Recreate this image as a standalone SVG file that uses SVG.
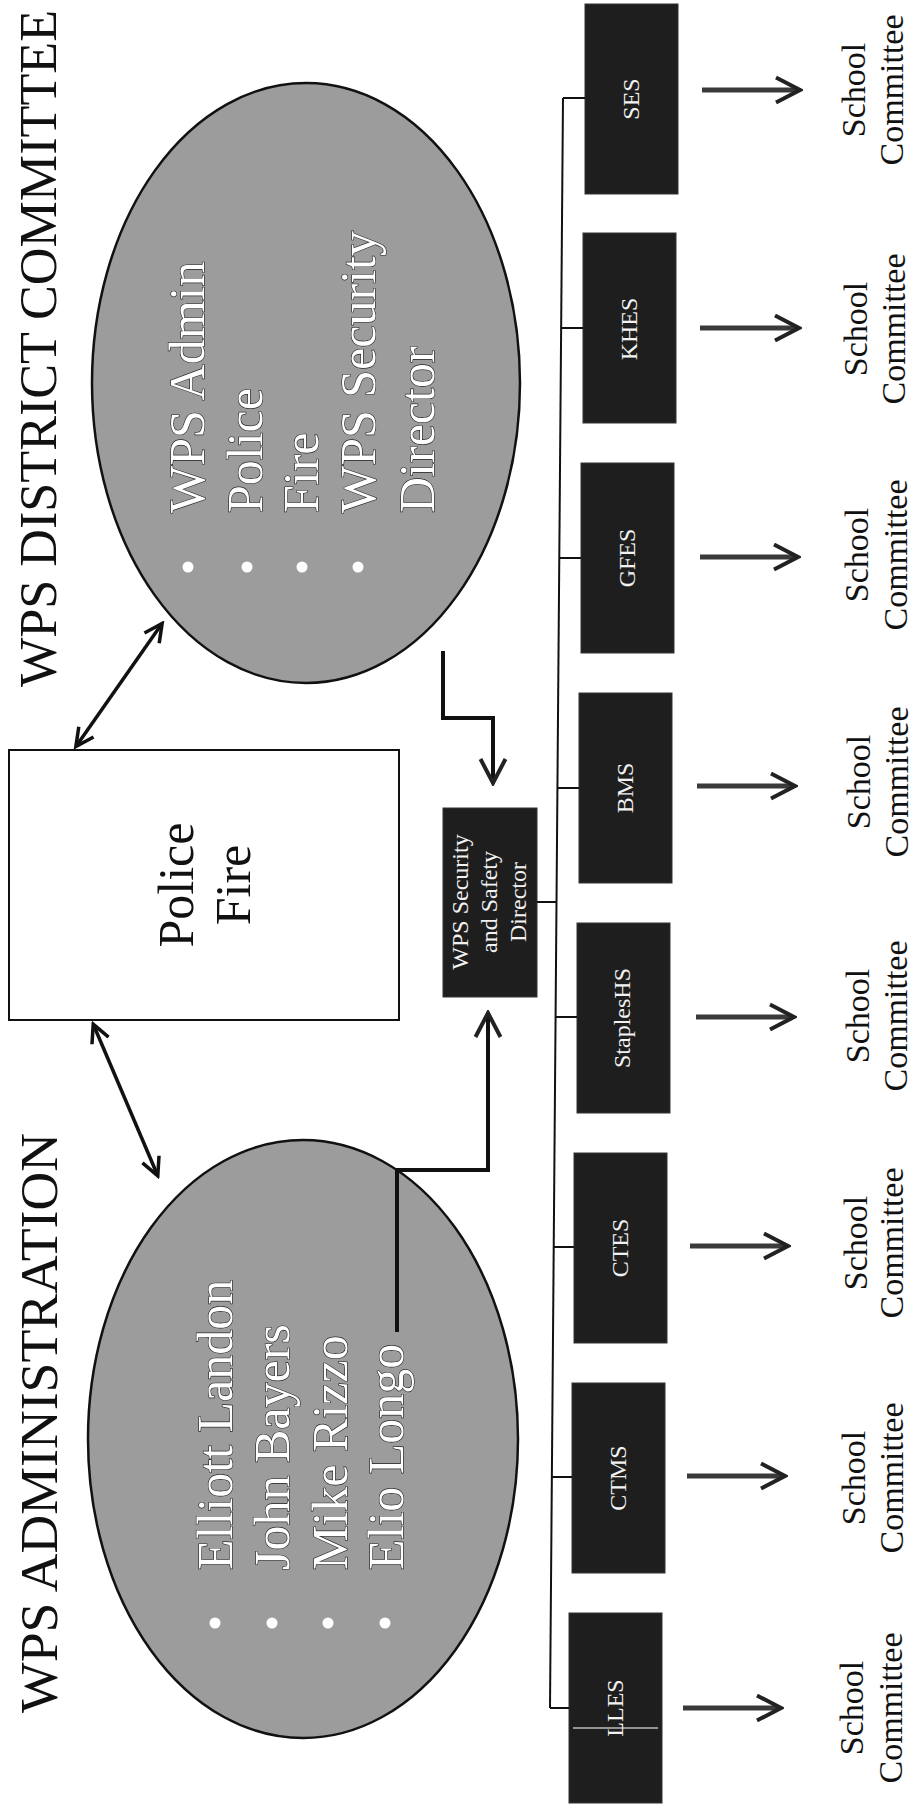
<svg xmlns="http://www.w3.org/2000/svg" width="915" height="1808" viewBox="0 0 915 1808">
<style>
text{font-family:"Liberation Serif","Times New Roman",serif}
.title{font-size:52px;fill:#111}
.oval{fill:#9c9c9c;stroke:#111;stroke-width:2.5}
.otext{font-size:50px;fill:#fff;stroke:#222;stroke-width:1.2;paint-order:stroke}
.bullet{fill:#fff}
.rectw{fill:#fff;stroke:#111;stroke-width:2}
.pf{font-size:50px;fill:#111;text-anchor:middle}
.box{fill:#1e1e1e;stroke:#333;stroke-width:1}
.btext{font-size:24px;fill:#f2f2f2;text-anchor:middle}
.sc{font-size:34px;fill:#111;text-anchor:middle}
.bus{fill:none;stroke:#111;stroke-width:2}
.conn{fill:none;stroke:#111;stroke-width:4}
.dbl{fill:none;stroke:#111;stroke-width:3.5}
.arr{fill:none;stroke:#3a3a3a;stroke-width:5}
</style>
<defs>
<marker id="chev" viewBox="0 0 30 30" refX="24" refY="15" markerWidth="30" markerHeight="30" markerUnits="userSpaceOnUse" orient="auto-start-reverse">
<path d="M3,2.5 L27,15 L3,27.5" fill="none" stroke="#222" stroke-width="4"/>
</marker>
<marker id="chevs" viewBox="0 0 24 24" refX="19" refY="12" markerWidth="24" markerHeight="24" markerUnits="userSpaceOnUse" orient="auto-start-reverse">
<path d="M3,3 L21,12 L3,21" fill="none" stroke="#111" stroke-width="3.5"/>
</marker>
</defs>

<g id="title-district"><text class="title" transform="translate(56,687) rotate(-90)" textLength="677" lengthAdjust="spacingAndGlyphs">WPS DISTRICT COMMITTEE</text></g>
<g id="title-admin"><text class="title" transform="translate(57,1713) rotate(-90)" textLength="580" lengthAdjust="spacingAndGlyphs">WPS ADMINISTRATION</text></g>

<g id="district-committee">
<ellipse class="oval" cx="306" cy="383" rx="214" ry="300"/>
<circle class="bullet" cx="188" cy="567" r="5.5"/>
<circle class="bullet" cx="247" cy="567" r="5.5"/>
<circle class="bullet" cx="302" cy="567" r="5.5"/>
<circle class="bullet" cx="358" cy="567" r="5.5"/>
<text class="otext" transform="translate(204,513) rotate(-90)">WPS Admin</text>
<text class="otext" transform="translate(262,513) rotate(-90)">Police</text>
<text class="otext" transform="translate(318,513) rotate(-90)">Fire</text>
<text class="otext" transform="translate(375,513) rotate(-90)">WPS Security</text>
<text class="otext" transform="translate(434,513) rotate(-90)">Director</text>
</g>

<g id="administration">
<ellipse class="oval" cx="303" cy="1439" rx="215" ry="299"/>
<circle class="bullet" cx="215" cy="1623" r="5.5"/>
<circle class="bullet" cx="272" cy="1623" r="5.5"/>
<circle class="bullet" cx="328" cy="1623" r="5.5"/>
<circle class="bullet" cx="385" cy="1623" r="5.5"/>
<text class="otext" transform="translate(232,1570) rotate(-90)">Elliott Landon</text>
<text class="otext" transform="translate(289,1570) rotate(-90)">John Bayers</text>
<text class="otext" transform="translate(347,1570) rotate(-90)">Mike Rizzo</text>
<text class="otext" transform="translate(403,1570) rotate(-90)">Elio Longo</text>
</g>

<g id="police-fire">
<rect class="rectw" x="9" y="750" width="390" height="270"/>
<text class="pf" transform="translate(193,885) rotate(-90)">Police</text>
<text class="pf" transform="translate(250,885) rotate(-90)">Fire</text>
</g>

<g id="security-director">
<rect class="box" x="443" y="808" width="94" height="189"/>
<text class="btext" transform="translate(468,902) rotate(-90)">WPS Security</text>
<text class="btext" transform="translate(497,902) rotate(-90)">and Safety</text>
<text class="btext" transform="translate(526,902) rotate(-90)">Director</text>
</g>

<g id="school-SES"><rect class="box" x="585" y="4" width="93" height="190"/><text class="btext" transform="translate(639,99) rotate(-90)">SES</text></g>
<g id="school-KHES"><rect class="box" x="583" y="233" width="93" height="190"/><text class="btext" transform="translate(637,329) rotate(-90)">KHES</text></g>
<g id="school-GFES"><rect class="box" x="581" y="463" width="93" height="190"/><text class="btext" transform="translate(635,558) rotate(-90)">GFES</text></g>
<g id="school-BMS"><rect class="box" x="579" y="693" width="93" height="190"/><text class="btext" transform="translate(633,788) rotate(-90)">BMS</text></g>
<g id="school-StaplesHS"><rect class="box" x="577" y="923" width="93" height="190"/><text class="btext" transform="translate(630,1018) rotate(-90)">StaplesHS</text></g>
<g id="school-CTES"><rect class="box" x="574" y="1153" width="93" height="190"/><text class="btext" transform="translate(628,1248) rotate(-90)">CTES</text></g>
<g id="school-CTMS"><rect class="box" x="572" y="1383" width="93" height="190"/><text class="btext" transform="translate(626,1478) rotate(-90)">CTMS</text></g>
<g id="school-LLES"><rect class="box" x="569" y="1613" width="93" height="190"/><line x1="573" y1="1728" x2="658" y2="1728" stroke="#bdbdbd" stroke-width="1.5"/><text class="btext" transform="translate(623,1708) rotate(-90)">LLES</text></g>

<g id="committee-SES"><text class="sc" transform="translate(865,90) rotate(-90)">School</text><text class="sc" transform="translate(903,90) rotate(-90)">Committee</text></g>
<g id="committee-KHES"><text class="sc" transform="translate(867,329) rotate(-90)">School</text><text class="sc" transform="translate(905,329) rotate(-90)">Committee</text></g>
<g id="committee-GFES"><text class="sc" transform="translate(868,555) rotate(-90)">School</text><text class="sc" transform="translate(907,555) rotate(-90)">Committee</text></g>
<g id="committee-BMS"><text class="sc" transform="translate(870,782) rotate(-90)">School</text><text class="sc" transform="translate(908,782) rotate(-90)">Committee</text></g>
<g id="committee-StaplesHS"><text class="sc" transform="translate(869,1016) rotate(-90)">School</text><text class="sc" transform="translate(907,1016) rotate(-90)">Committee</text></g>
<g id="committee-CTES"><text class="sc" transform="translate(867,1243) rotate(-90)">School</text><text class="sc" transform="translate(903,1243) rotate(-90)">Committee</text></g>
<g id="committee-CTMS"><text class="sc" transform="translate(865,1478) rotate(-90)">School</text><text class="sc" transform="translate(903,1478) rotate(-90)">Committee</text></g>
<g id="committee-LLES"><text class="sc" transform="translate(863,1708) rotate(-90)">School</text><text class="sc" transform="translate(902,1708) rotate(-90)">Committee</text></g>

<g id="connectors">
<line class="dbl" x1="77" y1="745" x2="161" y2="625" marker-start="url(#chevs)" marker-end="url(#chevs)"/>
<line class="dbl" x1="94" y1="1026" x2="157" y2="1174" marker-start="url(#chevs)" marker-end="url(#chevs)"/>
<path class="conn" d="M443,651 V718 H493 V780" marker-end="url(#chev)"/>
<path class="conn" d="M397,1332 V1170 H488 V1016" marker-end="url(#chev)"/>
<line class="bus" x1="563" y1="98" x2="550" y2="1708"/>
<line class="bus" x1="537" y1="902" x2="557" y2="902"/>
<line class="bus" x1="563" y1="98" x2="585" y2="98"/>
<line class="bus" x1="561" y1="328" x2="583" y2="328"/>
<line class="bus" x1="559" y1="558" x2="581" y2="558"/>
<line class="bus" x1="557" y1="788" x2="579" y2="788"/>
<line class="bus" x1="555" y1="1017" x2="577" y2="1017"/>
<line class="bus" x1="553" y1="1247" x2="574" y2="1247"/>
<line class="bus" x1="551" y1="1477" x2="572" y2="1477"/>
<line class="bus" x1="550" y1="1708" x2="569" y2="1708"/>
<line class="arr" x1="702" y1="90" x2="797" y2="90" marker-end="url(#chev)"/>
<line class="arr" x1="700" y1="328" x2="796" y2="328" marker-end="url(#chev)"/>
<line class="arr" x1="700" y1="557" x2="795" y2="557" marker-end="url(#chev)"/>
<line class="arr" x1="697" y1="786" x2="792" y2="786" marker-end="url(#chev)"/>
<line class="arr" x1="696" y1="1017" x2="791" y2="1017" marker-end="url(#chev)"/>
<line class="arr" x1="690" y1="1246" x2="785" y2="1246" marker-end="url(#chev)"/>
<line class="arr" x1="687" y1="1476" x2="782" y2="1476" marker-end="url(#chev)"/>
<line class="arr" x1="683" y1="1708" x2="778" y2="1708" marker-end="url(#chev)"/>
</g>
</svg>
